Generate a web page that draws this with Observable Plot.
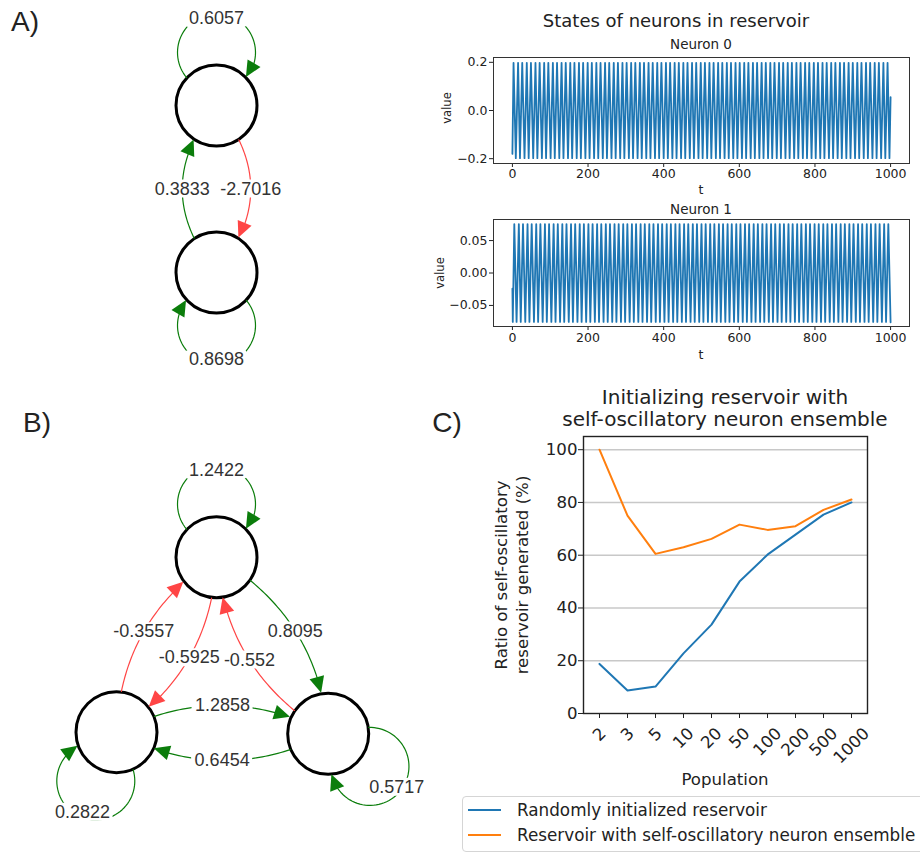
<!DOCTYPE html>
<html><head><meta charset="utf-8">
<script src="https://cdn.jsdelivr.net/npm/d3@7"></script>
<script src="https://cdn.jsdelivr.net/npm/@observablehq/plot@0.6"></script>
<style>
body{margin:0;background:#fff;}
#fig{position:relative;width:920px;height:852px;overflow:hidden;background:#fff;font-family:"DejaVu Sans",sans-serif;color:#222;}
.box{position:absolute;}
.lbl{position:absolute;white-space:nowrap;line-height:1;transform:translate(-50%,-50%);color:#222;}
</style></head><body><div id="fig"></div>
<script>
// ================= DATA =================
// Panel A: 2-neuron reservoir (node layout in layout units, y up) and weighted edges
const aNodeX = [0, 0];
const aNodeY = [2.95, 1.28];
const aLoopAngle = [90, -90];
const aSource = [0, 0, 1, 1];
const aTarget = [0, 1, 0, 1];
const aWeight = [0.6057, -2.7016, 0.3833, 0.8698];

// Panel B: 3-neuron reservoir
const bNodeX = [0, -1.0, 1.117];
const bNodeY = [-1.567, -3.317, -3.333];
const bLoopAngle = [90, -113, -38];
const bSource = [0, 0, 0, 1, 1, 1, 2, 2, 2];
const bTarget = [0, 1, 2, 0, 1, 2, 0, 1, 2];
const bWeight = [1.2422, -0.5925, 0.8095, -0.3557, 0.2822, 1.2858, -0.552, 0.6454, 0.5717];

// Panel A right: neuron states (turning points of the oscillation)
const tTicks = [0, 200, 400, 600, 800, 1000];
const n0Start = [0, -0.18];
const n0End = [1000, 0.055];
const n0PeakValue = 0.198, n0TroughValue = -0.198;
const n0Peaks = [3,15,26,38,49,61,72,84,95,107,118,130,141,153,164,176,187,199,210,222,233,245,256,268,279,291,302,314,325,337,348,360,371,383,394,406,417,429,440,452,463,475,486,498,509,521,532,544,555,567,578,590,601,613,624,636,647,659,670,682,693,705,716,728,739,751,762,774,785,797,808,820,831,843,854,866,877,889,900,912,923,935,946,958,969,981,992];
const n0Troughs = [9,20,32,43,55,66,78,89,101,112,124,135,147,158,170,181,193,204,216,227,239,250,262,273,285,296,308,319,331,342,354,365,377,388,400,411,423,434,446,457,469,480,492,503,515,526,538,549,561,572,584,595,607,618,630,641,653,664,676,687,699,710,722,733,745,756,768,779,791,802,814,825,837,848,860,871,883,894,906,917,929,940,952,963,975,986,997];
const n0Ticks = [-0.2, 0.0, 0.2];

const n1Start = [0, -0.024];
const n1End = [1000, -0.076];
const n1PeakValue = 0.0755, n1TroughValue = -0.0755;
const n1Peaks = [5,17,28,40,51,63,74,86,97,109,120,132,143,155,166,178,189,201,212,224,235,247,258,270,281,293,304,316,327,339,350,362,373,385,396,408,419,431,442,454,465,477,488,500,511,523,534,546,557,569,580,592,603,615,626,638,649,661,672,684,695,707,718,730,741,753,764,776,787,799,810,822,833,845,856,868,879,891,902,914,925,937,948,960,971,983,994];
const n1Troughs = [1,11,22,34,45,57,68,80,91,103,114,126,137,149,160,172,183,195,206,218,229,241,252,264,275,287,298,310,321,333,344,356,367,379,390,402,413,425,436,448,459,471,482,494,505,517,528,540,551,563,574,586,597,609,620,632,643,655,666,678,689,701,712,724,735,747,758,770,781,793,804,816,827,839,850,862,873,885,896,908,919,931,942,954,965,977,988];
const n1Ticks = [-0.05, 0.0, 0.05];

// Panel C
const popLabels = ["2", "3", "5", "10", "20", "50", "100", "200", "500", "1000"];
const randomInit = [18.8, 8.7, 10.2, 22.8, 33.7, 50.0, 60.2, 67.8, 75.4, 80.0];
const selfOsc = [100, 75.0, 60.5, 63.0, 66.2, 71.6, 69.6, 71.0, 77.2, 81.1];
const cTicks = [0, 20, 40, 60, 80, 100];
const seriesNames = ["Randomly initialized reservoir", "Reservoir with self-oscillatory neuron ensemble"];
const seriesColors = ["#1f77b4", "#ff7f0e"];

// ================= HELPERS =================
const fig = document.getElementById("fig");
function place(node, left, top) {
  const d = document.createElement("div");
  d.className = "box"; d.style.left = left + "px"; d.style.top = top + "px";
  d.appendChild(node); fig.appendChild(d); return d;
}
function addText(txt, cx, cy, size, family, rotate) {
  const d = document.createElement("div");
  d.className = "lbl"; d.textContent = txt;
  d.style.left = cx + "px"; d.style.top = cy + "px";
  d.style.fontSize = size + "px"; d.style.fontFamily = family;
  if (rotate) d.style.transform = "translate(-50%,-50%) rotate(-90deg)";
  fig.appendChild(d);
}

// ================= NETWORK DIAGRAMS =================
const U = 100; // pixels per layout unit (set by scale domains below)
const NODE_R = 41 / U, HEAD_L = 16 / U, HEAD_W = 15 / U;
const LOOP_D = 53 / U, LOOP_R = 39 / U, LOOP_LABEL = 87 / U;
const LABEL_SIZE = 18;
const POS = "#0b7d0b", NEG = "#ff4545";
const glyphW = ch => ch === "." ? 0.278 : ch === "-" ? 0.333 : 0.556;

function graph(name, nx, ny, loopAng, src, dst, wts, bend) {
  const lines = [], heads = [], labels = [];
  const dist = (p, q) => Math.hypot(p[0] - q[0], p[1] - q[1]);
  src.forEach((s, i) => {
    const t = dst[i], w = wts[i], id = name + i, color = w >= 0 ? POS : NEG;
    const sx = nx[s], sy = ny[s];
    let path, tip, base, lab;
    if (s === t) {
      const th = loopAng[s] * Math.PI / 180;
      const cx = sx + LOOP_D * Math.cos(th), cy = sy + LOOP_D * Math.sin(th);
      const a = (LOOP_D ** 2 + NODE_R ** 2 - LOOP_R ** 2) / (2 * LOOP_D);
      const h = Math.sqrt(NODE_R ** 2 - a * a);
      const beta = Math.PI - Math.atan2(h, LOOP_D - a);
      const dphi = 0.8 * HEAD_L / LOOP_R;
      const P = phi => [cx + LOOP_R * Math.cos(phi), cy + LOOP_R * Math.sin(phi)];
      path = d3.range(61).map(k => P(th + beta - (2 * beta - dphi) * k / 60));
      tip = P(th - beta);
      base = path[60];
      lab = [sx + LOOP_LABEL * Math.cos(th), sy + LOOP_LABEL * Math.sin(th)];
    } else {
      const tx = nx[t], ty = ny[t];
      const dx = tx - sx, dy = ty - sy;
      const cx = (sx + tx) / 2 - bend * dy, cy = (sy + ty) / 2 + bend * dx;
      const B = u => [(1 - u) * (1 - u) * sx + 2 * (1 - u) * u * cx + u * u * tx,
                      (1 - u) * (1 - u) * sy + 2 * (1 - u) * u * cy + u * u * ty];
      const N = 1000;
      let u0 = 0; while (dist(B(u0), [sx, sy]) < NODE_R) u0 += 1 / N;
      let u1 = 1; while (dist(B(u1), [tx, ty]) < NODE_R) u1 -= 1 / N;
      tip = B(u1);
      let ub = u1; while (dist(B(ub), tip) < 0.8 * HEAD_L) ub -= 1 / N;
      base = B(ub);
      path = d3.range(41).map(k => B(u0 + (ub - u0) * k / 40));
      lab = B(0.5);
    }
    path.forEach(p => lines.push({id, color, x: p[0], y: p[1]}));
    const L = dist(tip, base);
    const ux = (tip[0] - base[0]) / L, uy = (tip[1] - base[1]) / L;
    const bx = tip[0] - ux * HEAD_L, by = tip[1] - uy * HEAD_L;
    const px = -uy * HEAD_W / 2, py = ux * HEAD_W / 2;
    heads.push({id, color, x1: tip[0], y1: tip[1], x2: tip[0], y2: tip[1]});
    heads.push({id, color, x1: bx + px, y1: by + py, x2: bx - px, y2: by - py});
    const text = String(w);
    const halfW = (d3.sum(text, glyphW) * LABEL_SIZE + 6) / 2 / U, halfH = 9 / U;
    labels.push({x: lab[0], y: lab[1], text, x1: lab[0] - halfW, x2: lab[0] + halfW, y1: lab[1] - halfH, y2: lab[1] + halfH});
  });
  const nodes = nx.map((x, i) => ({x, y: ny[i]}));
  return {lines, heads, labels, nodes};
}

const gA = graph("a", aNodeX, aNodeY, aLoopAngle, aSource, aTarget, aWeight, 0.41);
const gB = graph("b", bNodeX, bNodeY, bLoopAngle, bSource, bTarget, bWeight, 0.26);
const gLines = gA.lines.concat(gB.lines);
const gHeads = gA.heads.concat(gB.heads);
const gLabels = gA.labels.concat(gB.labels);
const gNodes = gA.nodes.concat(gB.nodes);

const diagram = Plot.plot({
  width: 460, height: 852, margin: 0,
  style: "background: transparent; overflow: visible;",
  x: {domain: [-2.16, 2.44], axis: null},
  y: {domain: [-4.52, 4.0], axis: null},
  color: {type: "identity"},
  marks: [
    Plot.dot(gNodes, {x: "x", y: "y", r: 40.5, fill: "white", stroke: "black", strokeWidth: 3}),
    Plot.line(gLines, {x: "x", y: "y", z: "id", stroke: "color", strokeWidth: 1.2}),
    Plot.area(gHeads, {x1: "x1", y1: "y1", x2: "x2", y2: "y2", z: "id", fill: "color"}),
    Plot.rect(gLabels, {x1: "x1", x2: "x2", y1: "y1", y2: "y2", fill: "white", rx: 3}),
    Plot.text(gLabels, {x: "x", y: "y", text: "text", fill: "#333", fontSize: LABEL_SIZE, fontFamily: "Liberation Sans"})
  ]
});
place(diagram, 0, 0);

// ================= NEURON STATES =================
function series(start, end, peaks, pv, troughs, tv) {
  const pts = [{t: start[0], v: start[1]}]
    .concat(peaks.map(t => ({t, v: pv})))
    .concat(troughs.map(t => ({t, v: tv})))
    .concat([{t: end[0], v: end[1]}]);
  return pts.sort((a, b) => a.t - b.t);
}
const n0Data = series(n0Start, n0End, n0Peaks, n0PeakValue, n0Troughs, n0TroughValue);
const n1Data = series(n1Start, n1End, n1Peaks, n1PeakValue, n1Troughs, n1TroughValue);
const smallStyle = "font-family: 'DejaVu Sans'; font-size: 12.5px; color: #222; background: transparent; overflow: visible;";

const n0Plot = Plot.plot({
  width: 500, height: 160, marginLeft: 73, marginRight: 11, marginTop: 17, marginBottom: 37,
  style: smallStyle,
  x: {domain: [-50, 1050], ticks: tTicks, tickSize: 4, tickPadding: 2, label: null, tickFormat: d3.format("d")},
  y: {domain: [-0.22, 0.22], ticks: n0Ticks, tickSize: 4, tickPadding: 2, label: null, tickFormat: d3.format(".1f")},
  marks: [
    Plot.line(n0Data, {x: "t", y: "v", stroke: "#1f77b4", strokeWidth: 1.8}),
    Plot.frame({stroke: "#333", strokeWidth: 1})
  ]
});
place(n0Plot, 420, 40);

const n1Plot = Plot.plot({
  width: 500, height: 165, marginLeft: 73, marginRight: 11, marginTop: 19, marginBottom: 39,
  style: smallStyle,
  x: {domain: [-50, 1050], ticks: tTicks, tickSize: 4, tickPadding: 3, label: null, tickFormat: d3.format("d")},
  y: {domain: [-0.0825, 0.0825], ticks: n1Ticks, tickSize: 4, tickPadding: 2, label: null, tickFormat: d3.format(".2f")},
  marks: [
    Plot.line(n1Data, {x: "t", y: "v", stroke: "#1f77b4", strokeWidth: 1.8}),
    Plot.frame({stroke: "#333", strokeWidth: 1})
  ]
});
place(n1Plot, 420, 200);

// ================= PANEL C =================
const CF = 16.6;
const tickLabelMarks = popLabels.map(p => Plot.text([p], {
  x: d => d, y: () => 0, text: d => d, rotate: -45, fontSize: CF, fill: "#222",
  dy: 13 + (p.length * 0.636 * CF + 12) * 0.354
}));
const cPlot = Plot.plot({
  width: 420, height: 345, marginLeft: 123, marginRight: 13, marginTop: 6, marginBottom: 62,
  style: "font-family: 'DejaVu Sans'; font-size: " + CF + "px; color: #222; background: transparent; overflow: visible;",
  x: {type: "point", domain: popLabels, padding: 0.45, tickSize: 5, tickFormat: () => "", label: null},
  y: {domain: [0, 105], ticks: cTicks, tickSize: 5, tickPadding: 1, label: null},
  marks: [
    Plot.ruleY(cTicks.filter(v => v > 0), {stroke: "#c8c8c8", strokeWidth: 1.6}),
    Plot.line(randomInit, {x: (d, i) => popLabels[i], y: d => d, stroke: seriesColors[0], strokeWidth: 2}),
    Plot.line(selfOsc, {x: (d, i) => popLabels[i], y: d => d, stroke: seriesColors[1], strokeWidth: 2}),
    Plot.frame({stroke: "#222", strokeWidth: 1.4}),
    ...tickLabelMarks
  ]
});
place(cPlot, 460, 430);

// ================= TEXTS =================
addText("A)", 25, 22, 28, "Liberation Sans");
addText("B)", 37, 423, 28, "Liberation Sans");
addText("C)", 447, 423, 28, "Liberation Sans");
addText("States of neurons in reservoir", 676, 21, 18, "DejaVu Sans");
addText("Neuron 0", 701, 45, 13.5, "DejaVu Sans");
addText("t", 701, 190, 12.5, "DejaVu Sans");
addText("Neuron 1", 701, 210, 13.5, "DejaVu Sans");
addText("t", 701, 355, 12.5, "DejaVu Sans");
addText("value", 448, 108, 11.5, "DejaVu Sans", true);
addText("value", 441, 273, 11.5, "DejaVu Sans", true);
addText("Initializing reservoir with", 725, 397, 20, "DejaVu Sans");
addText("self-oscillatory neuron ensemble", 725, 419, 20, "DejaVu Sans");
addText("Ratio of self-oscillatory", 502, 575, CF, "DejaVu Sans", true);
addText("reservoir generated (%)", 523, 575, CF, "DejaVu Sans", true);
addText("Population", 725, 780, CF, "DejaVu Sans");

// ================= LEGEND =================
const leg = document.createElement("div");
leg.style.cssText = "position:absolute;left:462px;top:796px;width:480px;height:54px;border:1px solid #d5d5d5;border-radius:4px;background:#fff;";
seriesNames.forEach((name, i) => {
  const y = 13 + i * 25;
  const ln = document.createElement("div");
  ln.style.cssText = "position:absolute;left:5px;width:33px;height:2px;top:" + (y - 1) + "px;background:" + seriesColors[i] + ";";
  const tx = document.createElement("div");
  tx.style.cssText = "position:absolute;left:54px;top:" + y + "px;transform:translateY(-50%);white-space:nowrap;line-height:1;font-family:'DejaVu Sans';font-size:16.8px;color:#222;";
  tx.textContent = name;
  leg.appendChild(ln); leg.appendChild(tx);
});
fig.appendChild(leg);
</script></body></html>
